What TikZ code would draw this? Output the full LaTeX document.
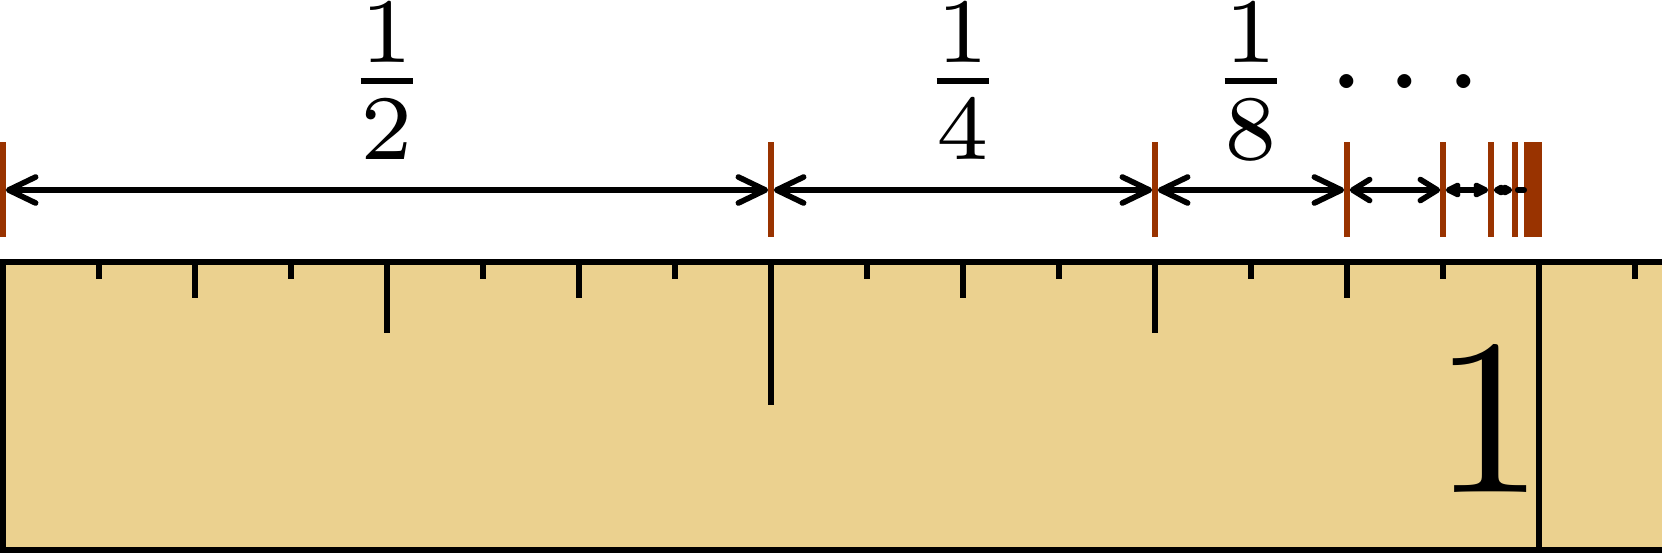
\documentclass[tikz,border=0pt]{standalone}
\usepackage{amsmath}
\usetikzlibrary{arrows.meta}
\definecolor{barred}{RGB}{153,51,0}
\definecolor{rulerfill}{RGB}{235,209,143}
\tikzset{
  ln/.style={line width=1.6pt},
  redbar/.style={draw=barred, line width=1.6pt},
  tickmark/.style={line width=1.6pt},
  dimarrow/.style 2 args={line width=1.6pt,
    arrows={Straight Barb[length=#1,width=#2,round]-Straight Barb[length=#1,width=#2,round]},
    shorten <=0.8pt, shorten >=0.8pt},
  lbl/.style={anchor=base, inner sep=0pt, scale=3.75},
}
\begin{document}
\begin{tikzpicture}[x=0.01cm, y=-0.01cm]
\useasboundingbox (0,0) rectangle (1662,553);
% ruler
\begin{scope}
  \clip (0,0) rectangle (1662,553);
  \fill[rulerfill] (3,262) rectangle (1700,550);
  \foreach \i/\len in {1/17,2/36,3/17,4/71,5/17,6/36,7/17,8/143,9/17,10/36,11/17,12/71,13/17,14/36,15/17,16/288,17/17}
    \draw[tickmark] ({3+96*\i},262) -- ++(0,\len);
  \draw[ln] (1700,262) -- (3,262) -- (3,550) -- (1700,550);
\end{scope}
% red bars
\foreach \k in {0,...,13}
  \draw[redbar] ({3+1536*(1-1/(2^\k))},142) -- ++(0,95);
% arrow end points
\foreach \k in {0,...,7}
  \coordinate (b\k) at ({3+1536*(1-1/(2^\k))},190);
\draw[dimarrow={0.27cm}{0.26cm}] (b0) -- (b1);
\draw[dimarrow={0.27cm}{0.26cm}] (b1) -- (b2);
\draw[dimarrow={0.27cm}{0.26cm}] (b2) -- (b3);
\draw[dimarrow={0.17cm}{0.21cm}] (b3) -- (b4);
\draw[dimarrow={0.09cm}{0.09cm}] (b4) -- (b5);
\draw[dimarrow={0.045cm}{0.05cm}] (b5) -- (b6);
\draw[line width=1.6pt, line cap=round, shorten <=0.8pt, shorten >=0.8pt] (b6) -- (b7);
% labels
\node[lbl] (half) at (387,114) {$\frac{1}{2}$};
\node[lbl] (quarter) at (963,114) {$\frac{1}{4}$};
\node[lbl] (eighth) at (1251,114) {$\frac{1}{8}$};
\node[lbl] (dots) at (1416,114) {$\cdots$};
\node[anchor=base, inner sep=0pt, scale=6.32] (one) at (1489.5,492) {1};
\end{tikzpicture}
\end{document}
